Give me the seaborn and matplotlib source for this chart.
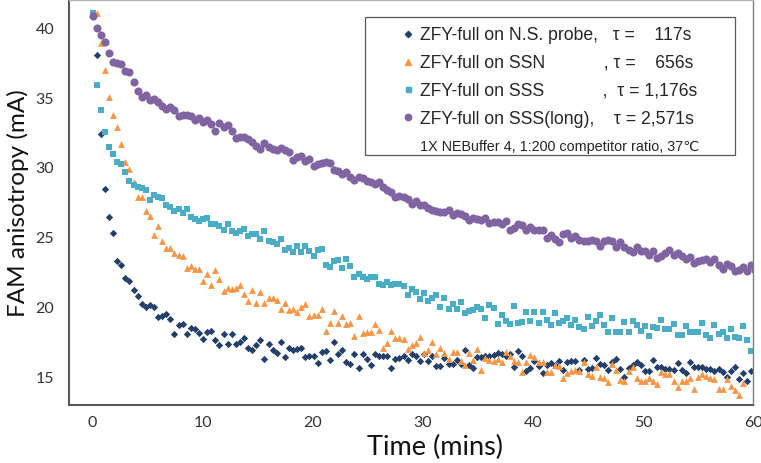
import numpy as np
import pandas as pd
import seaborn as sns
import matplotlib.pyplot as plt
from matplotlib.lines import Line2D
from matplotlib.patches import Rectangle

# plate reader cycle, seconds between reads
interval_s = 22.3

# FAM anisotropy (mA) per read, NaN = no read shown
ns_probe = [np.nan, 38.1, 32.4, 28.5, 26.48, 25.32, 23.29, 23.0, 22.12, 21.86, 21.21, 20.8, 20.26, 20.06, 20.18,
            20.02, 19.3, 19.37, 19.54, 19.13, 18.11, 18.7, 18.78, 18.11, 18.54, 18.46, 18.18, 17.75, 18.23, 18.3,
            17.63, 17.27, 18.06, 17.39, 18.06,
            17.34, 17.51, 17.82, 17.1, 16.91, 17.27, 17.63, 16.32, 17.39, 16.91, 16.75, 17.51, 16.44, 17.1, 16.91,
            17.03, 17.1, 16.44, 16.48, 16.48, 16.0, 16.79, 16.87, 16.2, 17.51, 16.63, 16.96, 16.08, 15.91, 16.63,
            15.67, 16.63, 16.27, 15.89, 16.63, 16.48, 16.48, 16.48, 15.67, 16.32, 16.39, 16.48, 16.2, 16.63, 16.48,
            16.15, 16.63, 16.15, 16.48, 15.77, 15.77, 16.39, 15.96, 15.96, 16.2, 15.96, 16.96, 15.89, 15.67, 16.44,
            16.45,
            16.54, 16.49, 16.61, 16.71, 16.66, 16.54, 16.66, 15.7, 16.85, 16.54, 15.42, 15.66, 16.13, 15.82, 15.27,
            15.9, 15.99, 15.9, 16.13, 15.51, 16.06, 16.13, 16.18, 15.51, 16.25, 15.58, 15.66, 16.35, 15.94, 15.9,
            15.51, 16.06, 16.3, 15.58, 15.03, 15.66, 15.9, 16.06, 15.9, 15.42, 15.42, 16.25, 15.7, 15.75, 15.58,
            15.58, 15.54, 15.99, 15.51, 15.27, 16.06, 15.75, 15.75, 15.75, 15.58, 15.58, 15.42, 15.58, 15.35, 15.03,
            15.42, 15.7, 14.87, 15.27, 14.7, 15.46]

ssn = [np.nan, 41.1, 38.95, 37.0, 35.05, 33.8, 32.9, 31.7, 30.45, 29.9, 29.0, 27.94, 27.94, 26.89, 26.58, 25.2,
       25.8, 24.76, 24.28, 24.23, 23.86, 23.72, 23.7, 22.85, 22.97, 22.78, 22.74, 21.9, 22.38, 21.63, 22.69, 22.05,
       21.16, 21.42, 21.33, 21.4,
       21.57, 20.97, 20.45, 21.21, 20.33, 21.09, 20.33, 20.69, 20.69, 20.5, 19.9, 20.33, 19.78, 19.9, 19.66, 20.02,
       20.21, 19.35, 19.42, 19.42, 19.9, 18.27, 18.9, 19.71, 18.9, 19.35, 18.82, 18.87, 17.94, 19.35, 18.15, 18.23,
       18.23, 18.82, 18.39, 17.08, 17.44, 18.27, 17.82, 17.82, 17.7, 17.03, 17.27, 17.46, 17.87, 16.75, 16.96,
       17.51, 16.63, 17.08, 16.72, 16.32, 16.79, 16.79, 16.15, 15.84, 16.72, 16.2, 17.03, 15.53,
       16.35, 16.23, 16.13, 16.3, 16.06, 16.78, 16.49, 16.18, 16.06, 15.35, 16.06, 16.59, 16.42, 16.11, 16.06,
       15.4, 15.4, 15.9, 15.82, 14.94, 15.27, 15.46, 15.51, 15.46, 16.06, 15.23, 15.11, 15.7, 15.04, 14.94, 14.63,
       15.94, 15.54, 14.8, 14.75, 15.42, 15.7, 14.94, 14.75, 14.75, 14.94, 14.75, 14.51, 15.35, 15.23, 15.23,
       14.75, 14.27, 14.7, 14.75, 14.94, 14.15, 14.99, 15.23, 15.11, 14.94, 14.87, 14.15, 14.15, 14.87, 14.39,
       14.1, 13.75, 14.56]

sss = [41.1, 35.92, 34.18, 32.6, 31.48, 30.97, 30.4, 30.29, 29.68, 29.09, 28.8, 28.66, 28.54, 28.42, 27.71, 28.05,
       27.9, 27.85,
       27.37, 27.18, 26.94, 27.06, 26.75, 27.06, 26.51, 26.34, 26.18, 26.34, 26.39, 25.99, 25.99, 25.8, 25.56,
       25.99, 25.48, 25.36,
       25.46, 25.63, 25.08, 25.27, 25.27, 24.91, 25.46, 24.79, 24.67, 24.51, 24.91, 24.12, 24.27, 23.96, 24.43,
       23.96, 24.39, 24.03, 23.67, 24.12, 24.2, 23.05, 22.88, 23.29, 23.41, 22.81, 23.43, 22.93, 22.17, 22.41,
       22.17, 22.05, 22.17, 22.17, 21.64, 21.57, 21.81, 21.57, 21.64, 21.64, 21.5,
       20.92, 21.33, 21.09, 20.57, 21.02, 20.45, 20.69, 20.85, 20.02, 20.69, 19.9, 20.26, 19.9, 20.38, 19.61,
       19.73, 19.78, 20.02, 19.9, 19.23, 20.18,
       19.95, 18.81, 19.45, 19.0, 18.81, 20.12, 18.88, 18.97, 19.64, 19.05, 19.69, 18.88, 19.69, 19.09, 18.74,
       19.6, 18.88, 19.05, 19.21, 18.76, 19.09, 18.62, 18.45, 19.28, 18.69, 19.05, 19.45, 18.74, 18.26, 19.21,
       18.26, 18.26, 18.97, 18.26, 19.0, 18.74, 18.28, 18.64, 17.97, 18.62, 18.5, 19.09, 18.45, 18.45, 18.81,
       18.04, 18.04, 18.66, 18.26, 18.21, 18.26, 18.85, 18.04, 17.8, 18.74, 18.09, 18.21, 17.78, 18.45, 17.9,
       17.8, 18.64, 17.66, 16.85]

sss_long = [40.91, 40.0, 39.5, 39.03, 38.24, 37.61, 37.5, 37.42, 36.95, 36.9, 36.13, 35.54, 35.09, 35.25, 34.9,
            34.91, 34.75, 34.46, 34.25, 34.39, 34.18, 33.75, 33.8, 33.82, 33.75, 33.44, 33.6, 33.3, 33.41, 33.17,
            32.65, 33.22, 32.94, 33.08, 32.67, 32.12, 32.24, 32.19, 32.05, 31.85, 31.55, 31.36,
            31.79, 31.53, 31.36, 31.29, 31.43, 31.29, 31.12, 30.57, 30.76, 30.88, 30.52, 30.64, 30.16, 30.28, 30.33,
            30.4, 30.36, 29.86, 29.76, 29.57, 29.68, 29.33, 29.14, 29.38, 29.28, 29.09, 28.97, 28.85, 28.97, 28.61,
            28.42, 28.25, 27.94, 27.99, 27.89, 27.75, 27.42, 27.59, 27.37, 27.37, 27.13, 26.99, 26.94, 26.82, 26.84,
            26.99, 26.65, 26.75, 26.7, 26.58, 26.27, 26.37, 26.35, 26.27, 26.42,
            26.03, 26.15, 26.1, 25.94, 26.22, 25.58, 25.68, 25.99, 25.91, 25.51, 25.75, 25.51, 25.56, 25.51, 24.96,
            25.22, 24.91, 24.67, 25.27, 25.32, 24.96, 25.13, 24.84, 24.74, 24.79, 24.84, 24.74, 24.43, 24.79, 24.84,
            24.74, 24.36, 24.67, 24.32, 24.12, 24.0, 24.32, 24.03, 24.03, 23.72, 24.03, 23.53, 23.65, 23.88, 24.12,
            23.72, 23.88, 23.65, 23.48, 23.6, 23.17, 23.31, 23.36, 23.48, 23.24, 23.43, 23.0, 22.76, 23.12, 22.93,
            22.57, 22.69, 22.88, 22.64, 23.05, 22.71]

labels = ["ZFY-full on N.S. probe,   \u03c4 =    117s",
          "ZFY-full on SSN            , \u03c4 =    656s",
          "ZFY-full on SSS            ,  \u03c4 = 1,176s",
          "ZFY-full on SSS(long),    \u03c4 = 2,571s"]
footnote = "1X NEBuffer 4, 1:200 competitor ratio, 37\u2103"

colors = ["#24406A", "#F79646", "#4BACC6", "#8064A2"]
markers = ["D", "^", "s", "o"]
sizes = [14, 24, 17, 34]

sns.set_style("white")
plt.rcParams["font.family"] = ["Lato", "DejaVu Sans"]

fig = plt.figure(figsize=(7.61, 4.63), dpi=100)
ax = fig.add_axes([0.0913, 0.1253, 0.8982, 0.8737])

for vals, col, mk, sz in zip([ns_probe, ssn, sss, sss_long], colors, markers, sizes):
    df = pd.DataFrame({"time": np.arange(len(vals)) * interval_s / 60, "fa": vals}).dropna()
    sns.scatterplot(data=df, x="time", y="fa", color=col, marker=mk, s=sz,
                    linewidth=0, legend=False, ax=ax)

ax.set_xlim(-2.1, 60)
ax.set_ylim(13, 42)
ax.set_xticks(range(0, 61, 10))
ax.set_yticks(range(15, 41, 5))
ax.set_xlabel("Time (mins)", fontsize=19.5, color="#111111", labelpad=2)
ax.xaxis.set_label_coords(0.535, -0.075)
ax.set_ylabel("FAM anisotropy (mA)", fontsize=17.5, color="#111111", labelpad=5)
ax.tick_params(axis="both", direction="out", length=4, width=1, color="#595959",
               labelsize=11.5, labelcolor="#333333", pad=4)
ax.tick_params(axis="y", pad=7)

for side in ["left", "bottom"]:
    ax.spines[side].set_color("#595959")
    ax.spines[side].set_linewidth(1.5)
ax.spines["top"].set_color("#B5B5B5")
ax.spines["right"].set_color("#7F7F7F")
ax.spines["top"].set_linewidth(1)
ax.spines["right"].set_linewidth(1)

# legend box
ax.add_patch(Rectangle((0.432, 0.617), 0.542, 0.341, transform=ax.transAxes,
                       facecolor="white", edgecolor="#595959", linewidth=0.9, zorder=4))

handles = [Line2D([], [], linestyle="none", marker=mk, color=col, markersize=ms)
           for mk, col, ms in zip(markers, colors, [3.2, 4.2, 3.6, 4.6])]
handles.append(Line2D([], [], linestyle="none"))
leg = ax.legend(handles, labels + [footnote], loc="upper left", bbox_to_anchor=(0.4855, 0.935),
                frameon=False, handlelength=0.8, handletextpad=0.25, borderpad=0, borderaxespad=0,
                labelspacing=0.62, prop={"family": ["Liberation Sans", "DejaVu Sans"], "size": 12.7})
leg.set_zorder(5)
leg.get_texts()[-1].set_fontsize(10.4)

fig.savefig("out.png", dpi=100)
